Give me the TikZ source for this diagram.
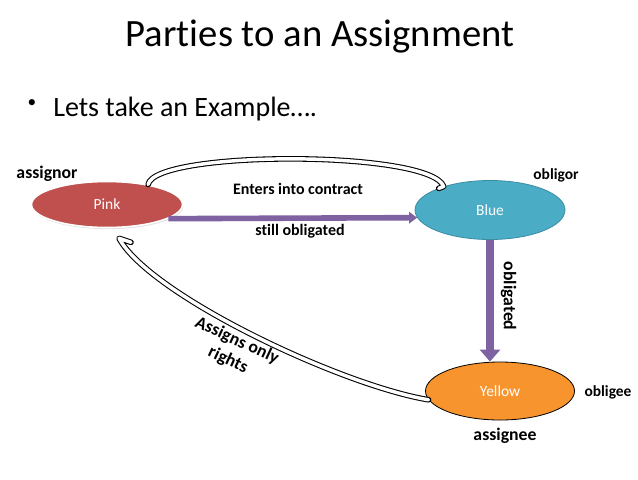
\documentclass[tikz,border=0pt]{standalone}
\usepackage{fontspec}
\setmainfont{Carlito}[Ligatures={NoCommon}]
\usetikzlibrary{shapes.geometric,arrows.meta,calc,shadows}
\definecolor{pinkc}{HTML}{C0504D}
\definecolor{bluec}{HTML}{4BACC6}
\definecolor{bluee}{HTML}{3A8CA3}
\definecolor{orangec}{HTML}{F7942E}
\definecolor{purplec}{HTML}{7F62A1}
\begin{document}
\begin{tikzpicture}[x=0.75pt,y=-0.75pt,
  party/.style={ellipse, inner sep=0pt, text=white, font=\fontsize{11.6}{13}\selectfont},
  lblA/.style={font=\bfseries\fontsize{13.3}{16}\selectfont, inner sep=0pt},
  lblB/.style={font=\bfseries\fontsize{12}{14}\selectfont, inner sep=0pt},
  lblC/.style={font=\bfseries\fontsize{11.6}{14}\selectfont, inner sep=0pt},
  purp/.style={draw=purplec},
  hollow/.style={draw=black, line width=0.8pt, double=white, double distance=2.6pt, line cap=round, line join=round}
]
\useasboundingbox (0,0) rectangle (638,479);
\node[anchor=base, inner sep=0pt] (title) at (320,46) {\fontsize{29}{34}\selectfont Parties to an Assignment};
\node[inner sep=0pt] (bul) at (32,103.5) {\fontsize{13}{15}\selectfont •};
\node[anchor=base west, inner sep=0pt] (bullet) at (53,116) {\fontsize{21}{25}\selectfont Lets take an Example….};

\node[party, fill=pinkc, draw=white, line width=1.2pt, minimum width=151*0.75pt, minimum height=46*0.75pt,
  drop shadow={opacity=0.25, shadow xshift=0.6pt, shadow yshift=-1.2pt}] (pink) at (107,204.5) {Pink};
\node[party, fill=bluec, draw=bluee, line width=0.6pt, minimum width=150*0.75pt, minimum height=59*0.75pt] (blue) at (490,210) {Blue};
\node[party, fill=orangec, draw=black, line width=0.6pt, minimum width=149*0.75pt, minimum height=58*0.75pt] (yellow) at (500,391) {Yellow};

\draw[purp, line width=4.2pt, -{Triangle[length=6pt,width=8.5pt]}] (pink.-13) -- (blue.186);
\draw[purp, line width=6.5pt, -{Triangle[length=9pt,width=15pt]}] (blue.south) -- (blue.south |- yellow.north);

\draw[hollow] (pink.26) .. controls (155,150) and (430,150) .. (blue.153) -- ++(-5,2);
\draw[hollow] (yellow.187) .. controls (340,385) and (150,295) .. ($(pink.south)+(12,10)$) -- ++(12,4);

\node[lblA] (assignor) at (47,174) {assignor};
\node[lblC] (obligor) at (556,175) {obligor};
\node[lblB] (enters) at (298,189) {Enters into contract};
\node[lblB] (still) at (300,231) {still obligated};
\node[lblA, rotate=-90] (oblig) at (508.5,296) {obligated};
\node[lblA, rotate=-25, align=center] (assigns) at (232.5,350.5) {Assigns only\\rights};
\node[lblC] (obligee) at (608,392) {obligee};
\node[lblA] (assignee) at (505,436) {assignee};
\end{tikzpicture}
\end{document}
